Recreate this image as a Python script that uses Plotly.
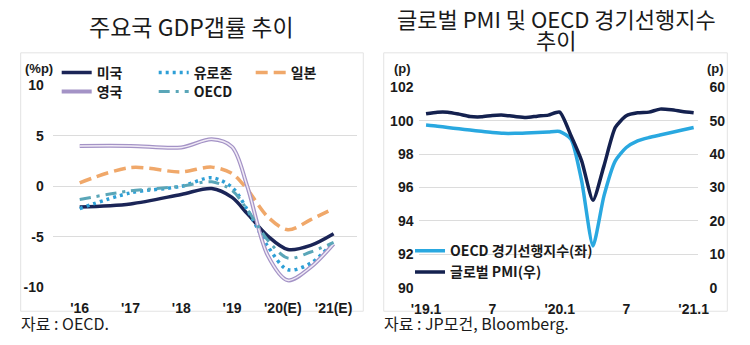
import plotly.graph_objects as go
import pandas as pd

# ---------------- Left chart data (GDP gap, %p) ----------------
gap_x = [2016, 2017, 2018, 2018.6, 2019, 2019.3, 2019.7, 2020.1, 2020.55, 2021]
us = [-2.05, -1.74, -0.8, -0.22, -1.1, -2.7, -4.9, -6.25, -5.85, -4.7]
ez = [-2.2, -0.65, 0.0, 0.85, -0.1, -2.3, -5.9, -8.25, -7.6, -5.5]
jp = [0.35, 1.85, 1.43, 1.9, 1.27, -0.3, -3.0, -4.3, -3.3, -2.2]
uk = [4.0, 4.0, 3.85, 4.65, 3.9, 0.0, -6.8, -9.3, -8.0, -5.7]
oecd_gap = [-1.3, -0.45, 0.0, 0.45, -0.4, -2.3, -5.3, -7.1, -6.5, -5.55]
gap_tickvals = [2016, 2017, 2018, 2019, 2020, 2021]
gap_ticktext = ["'16", "'17", "'18", "'19", "'20(E)", "'21(E)"]
gap_yvals = [10, 5, 0, -5, -10]
gap_ytext = ["10", "5", "0", "-5", "-10"]

# ---------------- Right chart data ----------------
months = pd.date_range("2019-01-01", "2021-01-01", freq="MS")
oecd_cli = [99.75, 99.68, 99.6, 99.52, 99.45, 99.37, 99.3, 99.25, 99.25, 99.27, 99.3, 99.33,
            99.36, 98.9, 96.4, 92.5, 95.5, 97.6, 98.4, 98.8, 99.0, 99.15, 99.3, 99.45, 99.6]
pmi = [52.1, 52.6, 52.6, 52.0, 51.3, 51.2, 51.6, 51.7, 51.3, 51.0, 51.4, 51.7,
       52.6, 45.5, 38.0, 26.2, 36.5, 48.0, 51.5, 52.4, 52.6, 53.5, 53.3, 52.8, 52.4]
cli_tickvals = pd.to_datetime(["2019-01-01", "2019-07-01", "2020-01-01", "2020-07-01", "2021-01-01"])
cli_ticktext = ["'19.1", "7", "'20.1", "7", "'21.1"]

FONT = "Liberation Sans, Noto Sans CJK KR, sans-serif"
KFONT = "Noto Sans CJK KR, Liberation Sans, sans-serif"
W, H = 750, 345

def px(x):
    return x / W

def py(y):
    return 1 - y / H

fig = go.Figure()

# left chart traces
fig.add_trace(go.Scatter(x=gap_x, y=us, name="미국", mode="lines",
                         line=dict(color="#1b2557", width=3.5, shape="spline", smoothing=0.9),
                         xaxis="x", yaxis="y", legend="legend"))
fig.add_trace(go.Scatter(x=gap_x, y=ez, name="유로존", mode="lines",
                         line=dict(color="#2e9fd6", width=3.5, dash="3px,4px", shape="spline", smoothing=0.9),
                         xaxis="x", yaxis="y", legend="legend"))
fig.add_trace(go.Scatter(x=gap_x, y=jp, name="일본", mode="lines",
                         line=dict(color="#f0a86a", width=3.5, dash="12px,6px", shape="spline", smoothing=0.9),
                         xaxis="x", yaxis="y", legend="legend"))
fig.add_trace(go.Scatter(x=gap_x, y=uk, name="영국", mode="lines",
                         line=dict(color="#a493c6", width=4, shape="spline", smoothing=0.9),
                         xaxis="x", yaxis="y", legend="legend3"))
fig.add_trace(go.Scatter(x=gap_x, y=uk, name="영국", mode="lines", showlegend=False,
                         line=dict(color="#f1ebf6", width=1.5, shape="spline", smoothing=0.9),
                         xaxis="x", yaxis="y", legend="legend3"))
fig.add_trace(go.Scatter(x=gap_x, y=oecd_gap, name="OECD", mode="lines",
                         line=dict(color="#5aa6b8", width=3, dash="11px,6px,3px,6px", shape="spline", smoothing=0.9),
                         xaxis="x", yaxis="y", legend="legend3"))

# right chart traces
fig.add_trace(go.Scatter(x=months, y=oecd_cli, name="OECD 경기선행지수(좌)", mode="lines",
                         line=dict(color="#29a8e0", width=3.5, shape="spline", smoothing=0.6),
                         xaxis="x2", yaxis="y2", legend="legend2"))
fig.add_trace(go.Scatter(x=months, y=pmi, name="글로벌 PMI(우)", mode="lines",
                         line=dict(color="#14214f", width=3.5, shape="spline", smoothing=0.6),
                         xaxis="x2", yaxis="y3", legend="legend2"))

axis_font = dict(family=FONT, size=14, color="#1a1a1a", weight="bold")
grid = "#dcdcdc"

fig.update_layout(
    width=W, height=H, autosize=False,
    margin=dict(l=0, r=0, t=0, b=0),
    paper_bgcolor="white", plot_bgcolor="white",
    font=dict(family=KFONT, color="#1a1a1a"),
    xaxis=dict(domain=[px(45), px(358)], range=[2015.47, 2021.47],
               tickvals=gap_tickvals, ticktext=gap_ticktext, tickfont=axis_font,
               showgrid=False, zeroline=False, showline=False, ticks="",
               ticklabelstandoff=11, anchor="y"),
    yaxis=dict(domain=[py(293), py(81)], range=[-10, 10],
               tickvals=gap_yvals, ticktext=gap_ytext, tickfont=axis_font,
               showgrid=True, gridcolor=grid, gridwidth=1, zeroline=False, showline=False,
               ticks="", ticklabelstandoff=8, anchor="x"),
    xaxis2=dict(domain=[px(421.7), px(708.3)], type="date",
                range=["2018-12-14", "2021-01-14"],
                tickvals=cli_tickvals, ticktext=cli_ticktext, tickfont=axis_font,
                showgrid=False, zeroline=False, showline=False, ticks="",
                ticklabelstandoff=11, anchor="y2"),
    yaxis2=dict(domain=[py(293.3), py(83.3)], range=[90, 102], dtick=2,
                tickfont=axis_font, showgrid=True, gridcolor=grid, gridwidth=1,
                zeroline=False, showline=False, ticks="", ticklabelstandoff=5, anchor="x2"),
    yaxis3=dict(domain=[py(293.3), py(83.3)], range=[0, 60], dtick=10, overlaying="y2",
                side="right", tickfont=axis_font, showgrid=False, zeroline=False,
                showline=False, ticks="", ticklabelstandoff=10, anchor="x2"),
    legend=dict(orientation="h", x=px(49), y=py(68), xanchor="left", yanchor="middle",
                bgcolor="rgba(0,0,0,0)", font=dict(family=KFONT, size=14, color="#1a1a1a", weight="bold"),
                entrywidth=52, itemwidth=30, traceorder="normal"),
    legend3=dict(orientation="h", x=px(49), y=py(88), xanchor="left", yanchor="middle",
                 bgcolor="rgba(0,0,0,0)", font=dict(family=KFONT, size=14, color="#1a1a1a", weight="bold"),
                 entrywidth=52, itemwidth=30, traceorder="normal"),
    legend2=dict(orientation="v", x=px(412), y=py(266), xanchor="left", yanchor="middle",
                 bgcolor="rgba(0,0,0,0)", font=dict(family=KFONT, size=14, color="#1a1a1a", weight="bold"),
                 itemwidth=30, tracegroupgap=0),
    showlegend=True,
)

# panel frames
fig.add_shape(type="rect", xref="paper", yref="paper", x0=px(12), x1=px(364), y0=py(318), y1=py(47),
              line=dict(color="#e3e3e3", width=1), layer="below")
fig.add_shape(type="rect", xref="paper", yref="paper", x0=px(385), x1=px(738), y0=py(318), y1=py(47),
              line=dict(color="#e3e3e3", width=1), layer="below")

ann = [
    dict(text="주요국 GDP갭률 추이", x=px(187), y=py(19), size=23, weight="normal", fam=KFONT, xa="center", ya="middle"),
    dict(text="글로벌 PMI 및 OECD 경기선행지수", x=px(562), y=py(10), size=22, weight="normal", fam=KFONT, xa="center", ya="middle"),
    dict(text="추이", x=px(562), y=py(32), size=22, weight="normal", fam=KFONT, xa="center", ya="middle"),
    dict(text="(%p)", x=px(14), y=py(63), size=13, weight="bold", fam=FONT, xa="left", ya="middle"),
    dict(text="(p)", x=px(393), y=py(63), size=13, weight="bold", fam=FONT, xa="left", ya="middle"),
    dict(text="(p)", x=px(737), y=py(63), size=13, weight="bold", fam=FONT, xa="right", ya="middle"),
    dict(text="자료 : OECD.", x=px(10), y=0, size=16, weight="normal", fam=KFONT, xa="left", ya="bottom"),
    dict(text="자료 : JP모건, Bloomberg.", x=px(383), y=0, size=16, weight="normal", fam=KFONT, xa="left", ya="bottom"),
]
for a in ann:
    fig.add_annotation(text=a["text"], x=a["x"], y=a["y"], xref="paper", yref="paper",
                       xanchor=a["xa"], yanchor=a["ya"], showarrow=False,
                       font=dict(family=a["fam"], size=a["size"], color="#1a1a1a", weight=a["weight"]))

fig.write_html("out.html", config={"displayModeBar": False})
